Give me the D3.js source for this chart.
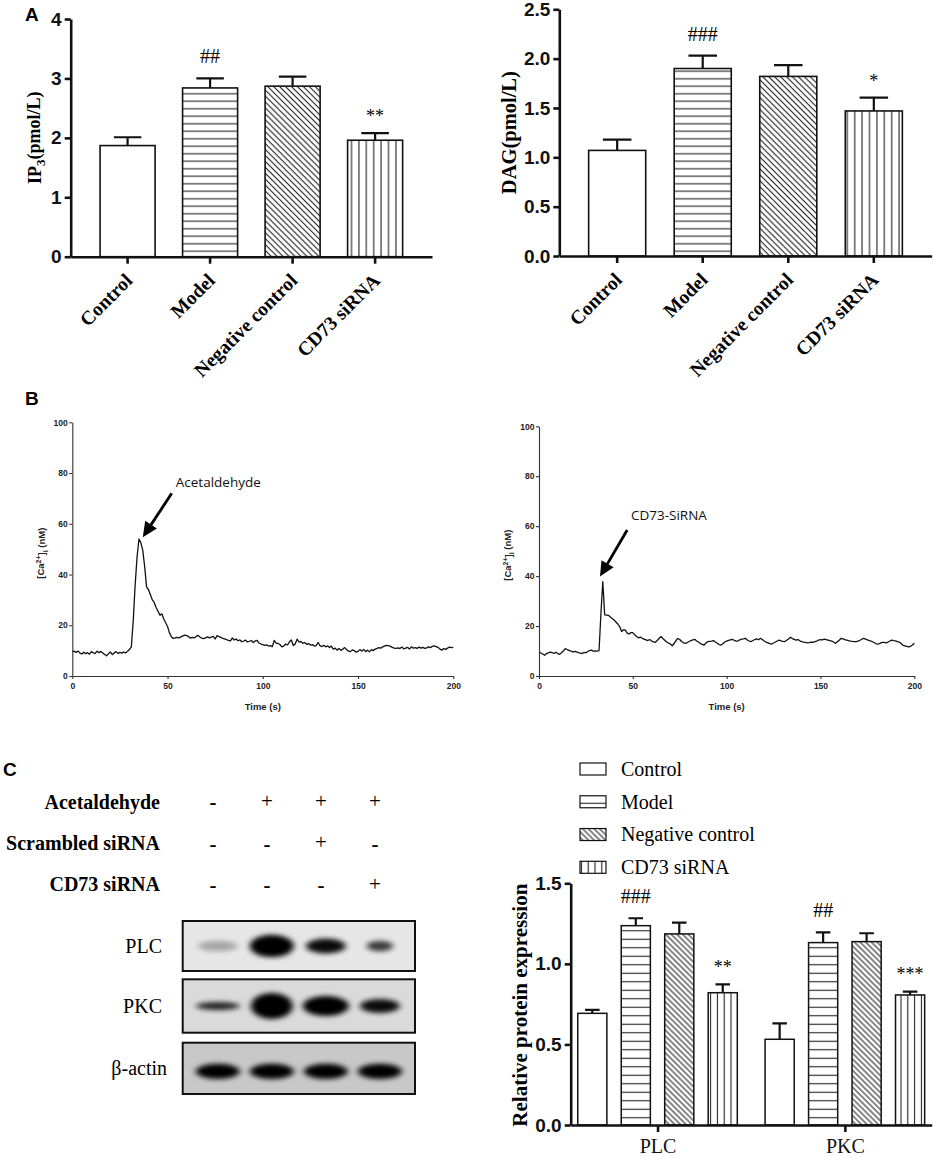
<!DOCTYPE html>
<html>
<head>
<meta charset="utf-8">
<script src="https://cdn.jsdelivr.net/npm/d3@7"></script>
<style>
  body { margin: 0; background: #fff; }
  svg { display: block; }
</style>
</head>
<body>
<script>
// ---------------- data ----------------
const groups = ["Control", "Model", "Negative control", "CD73 siRNA"];

// panel A
const ip3Mean = [1.87, 2.84, 2.87, 1.96];
const ip3Err = [0.14, 0.16, 0.16, 0.12];
const ip3Marks = ["", "##", "", "**"];
const ip3Ticks = [0, 1, 2, 3, 4];

const dagMean = [1.07, 1.90, 1.82, 1.47];
const dagErr = [0.11, 0.13, 0.115, 0.135];
const dagMarks = ["", "###", "", "*"];
const dagTicks = [0, 0.5, 1.0, 1.5, 2.0, 2.5];

// panel B, [Ca2+]i sampled every second from 0 to 200 s
const caStep = 1;
const caAcetaldehyde = [
  9.5, 9.8, 9.3, 9.9, 9.0, 8.7, 9.4, 8.8, 9.2, 8.6,
  9.6, 9.1, 8.9, 9.8, 9.2, 9.7, 9.1, 8.5, 8.0, 8.8,
  9.5, 8.4, 9.1, 9.6, 8.9, 9.3, 9.0, 9.4, 9.1, 9.8,
  10.4, 11.5, 22.0, 36.0, 47.0, 54.0, 52.5, 49.5, 43.0, 35.0,
  34.0, 32.0, 30.0, 29.0, 27.0, 25.5, 24.0, 24.5, 22.5, 21.0,
  19.5, 17.0, 15.5, 14.8, 15.0, 15.2, 15.0, 15.4, 15.8, 16.1,
  15.9, 15.6, 14.9, 15.2, 15.0, 15.6, 16.0, 15.4, 14.9, 14.7,
  15.0, 15.4, 15.0, 15.3, 15.6, 14.6, 15.9, 15.5, 15.2, 14.8,
  14.6, 14.3, 14.0, 13.8, 15.0, 14.2, 14.6, 13.9, 14.2, 13.5,
  13.8, 14.1, 13.4, 13.7, 14.0, 13.2, 13.8, 14.0, 13.0, 12.6,
  12.4, 12.1, 12.3, 11.8, 12.0, 11.6, 14.0, 13.0, 12.8, 12.4,
  11.5, 11.8, 12.6, 12.2, 13.5, 14.2, 12.0, 12.6, 14.5, 13.4,
  13.6, 12.9, 13.2, 12.5, 12.8, 12.2, 12.4, 11.8, 12.0, 13.2,
  12.0, 11.6, 12.1, 11.5, 11.9, 11.2, 11.8, 10.6, 11.0, 10.2,
  10.8, 10.1, 10.6, 11.2, 10.4, 9.8, 9.6, 10.3, 10.0, 9.4,
  9.7, 10.4, 9.8, 10.5, 9.6, 10.2, 9.5, 10.4, 10.0, 10.6,
  10.9, 11.2, 11.0, 11.5, 11.9, 12.1, 12.0, 11.7, 11.3, 11.0,
  10.9, 11.1, 10.8, 11.4, 10.7, 11.0, 11.3, 10.6, 11.5, 11.0,
  11.2, 10.9, 11.4, 11.0, 11.3, 10.9, 11.1, 11.5, 11.2, 11.7,
  11.9, 11.6, 11.3, 10.6, 10.2, 10.8, 10.5, 11.0, 11.4, 11.2,
  11.3
];
const caSiRNA = [
  9.7, 9.2, 8.8, 8.3, 9.0, 9.3, 9.6, 9.4, 9.0, 9.5,
  9.0, 8.7, 9.3, 10.0, 11.0, 10.6, 10.3, 10.0, 9.6, 9.9,
  9.7, 9.4, 9.2, 9.0, 9.5, 9.3, 9.8, 10.2, 10.4, 9.9,
  10.1, 10.0, 10.2, 25.0, 37.8, 24.5, 24.4, 24.3, 23.6, 23.0,
  22.4, 21.6, 20.8, 19.8, 17.8, 18.5, 18.4, 17.2, 16.8, 17.4,
  17.4, 16.5, 15.8, 15.3, 15.6, 15.1, 14.8, 14.5, 14.2, 14.6,
  14.0, 13.7, 13.5, 14.2, 15.0, 15.8, 15.0, 14.3, 13.6, 13.2,
  12.8, 12.1, 13.0, 14.2, 15.0, 14.6, 13.8, 13.3, 13.1, 13.4,
  13.8, 14.2, 14.5, 14.7, 14.0, 13.6, 13.0, 12.7, 12.4, 13.2,
  13.8, 13.9, 14.0, 14.2, 13.6, 13.1, 12.6, 12.4, 12.9, 13.6,
  14.0, 14.3, 14.5, 14.7, 14.3, 14.0, 14.0, 14.5, 14.8, 14.9,
  15.1, 14.4, 14.0, 13.8, 14.2, 14.6, 14.9, 14.5, 15.1, 14.6,
  14.0, 13.6, 13.3, 13.0, 12.8, 13.2, 13.6, 14.0, 14.4, 14.1,
  13.9, 13.8, 14.3, 14.8, 15.5, 15.0, 14.7, 14.4, 14.6, 14.1,
  13.8, 13.6, 13.5, 13.3, 13.4, 13.6, 13.5, 13.8, 14.0, 14.4,
  14.6, 14.5, 14.8, 14.6, 14.4, 14.2, 14.0, 13.6, 13.1, 13.7,
  14.3, 15.1, 14.9, 14.6, 14.4, 14.2, 14.0, 13.9, 13.8, 13.8,
  14.0, 14.3, 14.7, 15.1, 14.8, 14.5, 14.2, 14.0, 13.6, 13.2,
  12.8, 12.9, 13.2, 13.5, 13.5, 13.3, 13.6, 14.0, 14.4, 14.2,
  14.1, 13.8, 13.6, 13.0, 12.3, 12.1, 11.9, 11.7, 11.9, 12.4,
  13.1
];
const caTicksY = [0, 20, 40, 60, 80, 100];
const caTicksX = [0, 50, 100, 150, 200];
// arrow annotation: [time, value] of label start, arrow tail, arrow tip
const annoAcet = { label: "Acetaldehyde", text: [54.3, 74.6], tail: [52.2, 72], tip: [37, 54.7] };
const annoSi = { label: "CD73-SiRNA", text: [49, 62.5], tail: [47, 58.5], tip: [32.5, 39.8] };

// panel C, western blot
const lanes = ["L1", "L2", "L3", "L4"];
const treatRows = ["Acetaldehyde", "Scrambled siRNA", "CD73 siRNA"];
const treatSigns = [
  ["-", "+", "+", "+"],
  ["-", "-", "+", "-"],
  ["-", "-", "-", "+"]
];
const blotProteins = ["PLC", "PKC", "β-actin"];
const blotDensity = [
  [0.28, 1.00, 0.95, 0.75],
  [0.85, 1.00, 1.00, 0.95],
  [1.00, 1.00, 1.00, 1.00]
];
const blotThickness = [
  [0.35, 0.85, 0.55, 0.35],
  [0.25, 1.00, 0.75, 0.50],
  [0.55, 0.55, 0.55, 0.55]
];
const blotWidth = [
  [0.9, 1.0, 0.9, 0.6],
  [1.0, 0.95, 1.05, 0.9],
  [1.0, 1.0, 1.0, 1.0]
];

// panel C, densitometry
const proteins = ["PLC", "PKC"];
const plcMean = [0.693, 1.237, 1.186, 0.821];
const plcErr = [0.021, 0.046, 0.070, 0.052];
const plcMarks = ["", "###", "", "**"];
const pkcMean = [0.532, 1.132, 1.138, 0.807];
const pkcErr = [0.099, 0.064, 0.052, 0.021];
const pkcMarks = ["", "##", "", "***"];
const protTicks = [0, 0.5, 1.0, 1.5];

// ---------------- drawing ----------------
const SERIF = "Liberation Serif, Times New Roman, serif";
const SANS = "Liberation Sans, Arial, sans-serif";
const CALI = "Open Sans, sans-serif";

const svg = d3.select("body").append("svg")
  .attr("width", 934)
  .attr("height", 1158);
const defs = svg.append("defs");

//hatching patterns
function addPattern(id, kind, gap) {
  const p = defs.append("pattern")
    .attr("id", id)
    .attr("patternUnits", "userSpaceOnUse")
    .attr("width", gap)
    .attr("height", gap);
  if (kind === "d") p.attr("patternTransform", "rotate(-45)");
  p.append("rect").attr("width", gap).attr("height", gap).attr("fill", "#fff");
  if (kind === "h")
    p.append("line").attr("x1", 0).attr("x2", gap).attr("y1", gap / 2).attr("y2", gap / 2)
      .attr("stroke", "#222").attr("stroke-width", 1.1);
  else
    p.append("line").attr("x1", gap / 2).attr("x2", gap / 2).attr("y1", 0).attr("y2", gap)
      .attr("stroke", "#222").attr("stroke-width", 1.1);
}
addPattern("a-h", "h", 7.5);
addPattern("a-d", "d", 4.2);
addPattern("a-v", "v", 7.4);
addPattern("c-h", "h", 8.5);
addPattern("c-d", "d", 4);
addPattern("c-v", "v", 6.8);

function fillFor(i, set) {
  return ["#fff", `url(#${set}-h)`, `url(#${set}-d)`, `url(#${set}-v)`][i];
}

//blur filter for blot bands
defs.append("filter").attr("id", "blur").attr("x", "-50%").attr("y", "-100%").attr("width", "200%").attr("height", "300%")
  .append("feGaussianBlur").attr("stdDeviation", "3.2 2.4");

function panelLetter(txt, x, y) {
  svg.append("text").attr("x", x).attr("y", y).text(txt)
    .style("font-family", SANS).style("font-weight", "bold").style("font-size", "19px");
}

function styleAxis(ax, width, fontSize, family) {
  ax.selectAll("path.domain").attr("stroke", "#111").attr("stroke-width", width);
  ax.selectAll(".tick line").attr("stroke", "#111").attr("stroke-width", width);
  ax.selectAll(".tick text").style("font-family", family).style("font-weight", "bold")
    .style("font-size", fontSize + "px").attr("fill", "#111");
}

// significance marks, centred ~21px above the error cap
function drawMark(g, cx, capY, mark) {
  if (!mark) return;
  const star = mark[0] === "*";
  const fs = star ? 18 : 20;
  g.append("text")
    .attr("x", cx)
    .attr("y", capY - 21 + (star ? 0.55 : 0.3) * fs)
    .attr("text-anchor", "middle")
    .text(mark)
    .style("font-family", SERIF)
    .style("font-size", fs + "px");
}

// bar chart of panel A
function barPanel(cfg) {
  const g = svg.append("g");
  const x = d3.scaleBand().domain(groups).range([cfg.left, cfg.right])
    .paddingInner(0.333).paddingOuter(cfg.po);
  const y = d3.scaleLinear().domain([0, cfg.max]).range([cfg.bottom, cfg.top]);

  g.selectAll(".bar").data(cfg.mean).join("rect")
    .attr("x", (d, i) => x(groups[i]))
    .attr("width", x.bandwidth())
    .attr("y", d => y(d))
    .attr("height", d => y(0) - y(d))
    .attr("fill", (d, i) => fillFor(i, "a"))
    .attr("stroke", "#111")
    .attr("stroke-width", 1.6);

  g.selectAll(".err").data(cfg.mean).join("path")
    .attr("d", (d, i) => {
      const cx = x(groups[i]) + x.bandwidth() / 2;
      const w = x.bandwidth() / 4;
      const top = y(d + cfg.err[i]);
      return `M${cx},${y(d)}V${top}M${cx - w},${top}H${cx + w}`;
    })
    .attr("fill", "none").attr("stroke", "#111").attr("stroke-width", 2.2);

  cfg.mean.forEach((d, i) => drawMark(g, x(groups[i]) + x.bandwidth() / 2, y(d + cfg.err[i]), cfg.marks[i]));

  const ya = g.append("g").attr("transform", `translate(${cfg.left},0)`)
    .call(d3.axisLeft(y).tickValues(cfg.ticks).tickFormat(cfg.fmt).tickSize(6).tickPadding(3).tickSizeOuter(0));
  styleAxis(ya, 2.6, 19, SANS);

  const xa = g.append("g").attr("transform", `translate(0,${cfg.bottom})`)
    .call(d3.axisBottom(x).tickSize(7).tickSizeOuter(0));
  styleAxis(xa, 2.6, 19, SANS);
  xa.selectAll(".tick text").remove();

  groups.forEach(name => {
    const cx = x(name) + x.bandwidth() / 2;
    g.append("text")
      .attr("transform", `translate(${cx + 6},${cfg.bottom + 25}) rotate(-45)`)
      .attr("text-anchor", "end")
      .text(name)
      .style("font-family", SERIF).style("font-weight", "bold").style("font-size", "19.5px");
  });

  //y label
  const lab = g.append("text")
    .attr("transform", `translate(${cfg.labelX},${(cfg.top + cfg.bottom) / 2 + cfg.labelDy}) rotate(-90)`)
    .attr("text-anchor", "middle")
    .style("font-family", SERIF).style("font-weight", "bold").style("font-size", cfg.labelSize + "px");
  cfg.label(lab);
}

barPanel({
  left: 70.7, right: 432, top: 19, bottom: 256.7, max: 4, po: 0.356,
  mean: ip3Mean, err: ip3Err, marks: ip3Marks, ticks: ip3Ticks, fmt: d3.format("d"),
  labelX: 41, labelDy: 0, labelSize: 18,
  label: t => {
    t.append("tspan").text("IP");
    t.append("tspan").attr("dy", "0.3em").style("font-size", "13px").text("3");
    t.append("tspan").attr("dy", "-0.3em").text("(pmol/L)");
  }
});
barPanel({
  left: 559.3, right: 931.7, top: 9.3, bottom: 256, max: 2.5, po: 0.343,
  mean: dagMean, err: dagErr, marks: dagMarks, ticks: dagTicks, fmt: d3.format(".1f"),
  labelX: 516, labelDy: 0, labelSize: 20.5,
  label: t => t.text("DAG(pmol/L)")
});
panelLetter("A", 25, 21);

// calcium traces of panel B
function tracePanel(cfg) {
  const g = svg.append("g");
  const x = d3.scaleLinear().domain([0, 200]).range([cfg.left, cfg.right]);
  const y = d3.scaleLinear().domain([0, 100]).range([cfg.bottom, cfg.top]);

  const line = d3.line()
    .x((d, i) => x(i * caStep))
    .y(d => y(d));
  g.append("path").datum(cfg.values)
    .attr("d", line)
    .attr("fill", "none")
    .attr("stroke", "#111")
    .attr("stroke-width", 1.3)
    .attr("stroke-linejoin", "round");

  const ya = g.append("g").attr("transform", `translate(${cfg.left},0)`)
    .call(d3.axisLeft(y).tickValues(caTicksY).tickSize(3).tickPadding(1.5).tickSizeOuter(0));
  const xa = g.append("g").attr("transform", `translate(0,${cfg.bottom})`)
    .call(d3.axisBottom(x).tickValues(caTicksX).tickSize(3).tickPadding(4).tickSizeOuter(0));
  [ya, xa].forEach(a => styleAxis(a, 1.1, 8.5, SANS));
  ya.selectAll("path.domain, .tick line").attr("stroke", "#333");
  xa.selectAll("path.domain, .tick line").attr("stroke", "#333");
  ya.selectAll(".tick text, .tick line").attr("fill", "#222");
  xa.selectAll(".tick text").attr("fill", "#222");

  g.append("text")
    .attr("x", (cfg.left + cfg.right) / 2)
    .attr("y", cfg.bottom + 34)
    .attr("text-anchor", "middle")
    .text("Time (s)")
    .style("font-family", SANS).style("font-weight", "bold").style("font-size", "9.5px").attr("fill", "#222");

  const yl = g.append("text")
    .attr("transform", `translate(${cfg.left - 28},${(cfg.top + cfg.bottom) / 2 + 4}) rotate(-90)`)
    .attr("text-anchor", "middle")
    .style("font-family", SANS).style("font-weight", "bold").style("font-size", "9.5px").attr("fill", "#222");
  yl.append("tspan").text("[Ca");
  yl.append("tspan").attr("dy", "-0.45em").style("font-size", "7px").text("2+");
  yl.append("tspan").attr("dy", "0.45em").text("]");
  yl.append("tspan").attr("dy", "0.3em").style("font-size", "7px").text("i");
  yl.append("tspan").attr("dy", "-0.3em").text(" (nM)");

  //arrow and annotation
  const a = cfg.anno;
  const tip = [x(a.tip[0]), y(a.tip[1])];
  const tail = [x(a.tail[0]), y(a.tail[1])];
  const len = Math.hypot(tip[0] - tail[0], tip[1] - tail[1]);
  const u = [(tip[0] - tail[0]) / len, (tip[1] - tail[1]) / len];
  const n = [-u[1], u[0]];
  const headLen = 15, headHalf = 7;
  const base = [tip[0] - u[0] * headLen, tip[1] - u[1] * headLen];
  g.append("line")
    .attr("x1", tail[0]).attr("y1", tail[1])
    .attr("x2", base[0] + u[0] * 2).attr("y2", base[1] + u[1] * 2)
    .attr("stroke", "#000").attr("stroke-width", 2.8);
  g.append("path")
    .attr("d", `M${tip[0]},${tip[1]}L${base[0] + n[0] * headHalf},${base[1] + n[1] * headHalf}L${base[0] - n[0] * headHalf},${base[1] - n[1] * headHalf}Z`)
    .attr("fill", "#000");
  g.append("text")
    .attr("x", x(a.text[0])).attr("y", y(a.text[1]))
    .text(a.label)
    .style("font-family", CALI).style("font-size", "13.5px").attr("fill", "#111");
}

tracePanel({ left: 72.3, right: 453.3, top: 422.3, bottom: 676, values: caAcetaldehyde, anno: annoAcet });
tracePanel({ left: 539, right: 914.3, top: 426.3, bottom: 676, values: caSiRNA, anno: annoSi });
panelLetter("B", 25, 405);

// western blot of panel C
panelLetter("C", 3, 776);
const signX = d3.scalePoint().domain(lanes).range([213, 375]);
const rowY = d3.scalePoint().domain(treatRows).range([801.7, 884.3]);
treatRows.forEach((row, r) => {
  svg.append("text")
    .attr("x", 160).attr("y", rowY(row)).attr("dy", "0.34em")
    .attr("text-anchor", "end")
    .text(row)
    .style("font-family", SERIF).style("font-weight", "bold").style("font-size", "20px");
  treatSigns[r].forEach((s, l) => {
    svg.append("text")
      .attr("x", signX(lanes[l])).attr("y", rowY(row)).attr("dy", s === "+" ? "0.3em" : "0.36em")
      .attr("text-anchor", "middle")
      .text(s)
      .style("font-family", SERIF).style("font-weight", s === "-" ? "bold" : "normal").style("font-size", "21px");
  });
});

const blotBoxes = [
  { y0: 921, y1: 971, bg: "#e6e6e6", labelX: 162 },
  { y0: 979.3, y1: 1032.7, bg: "#dadada", labelX: 162 },
  { y0: 1042.7, y1: 1094, bg: "#c8c8c8", labelX: 167 }
];
const laneX = d3.scalePoint().domain(lanes).range([182.7, 415]).padding(0.65);
const bandH = d3.scaleLinear().domain([0, 1]).range([0, 24]);
const bandW = d3.scaleLinear().domain([0, 1]).range([0, 44]);
blotProteins.forEach((p, r) => {
  const b = blotBoxes[r];
  const cy = (b.y0 + b.y1) / 2;
  svg.append("text")
    .attr("x", b.labelX).attr("y", cy).attr("dy", "0.34em")
    .attr("text-anchor", "end")
    .text(p)
    .style("font-family", SERIF).style("font-size", "20px");
  svg.append("rect")
    .attr("x", 182.7).attr("y", b.y0).attr("width", 415 - 182.7).attr("height", b.y1 - b.y0)
    .attr("fill", b.bg);
  const clip = "clip" + r;
  defs.append("clipPath").attr("id", clip).append("rect")
    .attr("x", 182.7).attr("y", b.y0).attr("width", 415 - 182.7).attr("height", b.y1 - b.y0);
  const bg = svg.append("g").attr("clip-path", `url(#${clip})`);
  bg.selectAll("ellipse").data(blotDensity[r]).join("ellipse")
    .attr("cx", (d, i) => laneX(lanes[i]))
    .attr("cy", cy + (r === 2 ? 3 : 0))
    .attr("rx", (d, i) => bandW(blotWidth[r][i]) / 2)
    .attr("ry", (d, i) => Math.max(2.5, bandH(blotThickness[r][i]) / 2 + 1))
    .attr("fill", "#000")
    .attr("opacity", d => d)
    .attr("filter", "url(#blur)");
  svg.append("rect")
    .attr("x", 182.7).attr("y", b.y0).attr("width", 415 - 182.7).attr("height", b.y1 - b.y0)
    .attr("fill", "none").attr("stroke", "#111").attr("stroke-width", 2);
});

// densitometry bars of panel C
(function protPanel() {
  const left = 570.7, right = 931.7, top = 883.3, bottom = 1125;
  const g = svg.append("g");
  const x0 = d3.scalePoint().domain(proteins).range([left, right]).padding(0.4635);
  const x1 = d3.scaleBand().domain(groups).range([-80, 80]).paddingInner(0.33).paddingOuter(0.005);
  const y = d3.scaleLinear().domain([0, 1.5]).range([bottom, top]);
  const means = [plcMean, pkcMean], errs = [plcErr, pkcErr], marks = [plcMarks, pkcMarks];

  proteins.forEach((p, k) => {
    groups.forEach((name, i) => {
      const bx = x0(p) + x1(name);
      const cx = bx + x1.bandwidth() / 2;
      const v = means[k][i], e = errs[k][i];
      g.append("rect")
        .attr("x", bx).attr("width", x1.bandwidth())
        .attr("y", y(v)).attr("height", y(0) - y(v))
        .attr("fill", fillFor(i, "c")).attr("stroke", "#111").attr("stroke-width", 1.5);
      const w = x1.bandwidth() / 4;
      g.append("path")
        .attr("d", `M${cx},${y(v)}V${y(v + e)}M${cx - w},${y(v + e)}H${cx + w}`)
        .attr("fill", "none").attr("stroke", "#111").attr("stroke-width", 2.2);
      drawMark(g, cx, y(v + e), marks[k][i]);
    });
  });

  const ya = g.append("g").attr("transform", `translate(${left},0)`)
    .call(d3.axisLeft(y).tickValues(protTicks).tickFormat(d3.format(".1f")).tickSize(6).tickPadding(3).tickSizeOuter(0));
  styleAxis(ya, 2.6, 19, SANS);
  const xa = g.append("g").attr("transform", `translate(0,${bottom})`)
    .call(d3.axisBottom(x0).tickSize(7).tickSizeOuter(0));
  styleAxis(xa, 2.6, 20, SERIF);
  xa.selectAll(".tick text").style("font-weight", "normal").attr("y", 28).attr("dy", 0);

  g.append("text")
    .attr("transform", `translate(527,${(top + bottom) / 2 + 1}) rotate(-90)`)
    .attr("text-anchor", "middle")
    .text("Relative protein expression")
    .style("font-family", SERIF).style("font-weight", "bold").style("font-size", "21px");

  //legend
  const ly = d3.scalePoint().domain(groups).range([769, 867.3]);
  groups.forEach((name, i) => {
    g.append("rect")
      .attr("x", 580).attr("y", ly(name) - 6).attr("width", 26).attr("height", 12)
      .attr("fill", fillFor(i, "c")).attr("stroke", "#111").attr("stroke-width", 1.2);
    g.append("text")
      .attr("x", 621).attr("y", ly(name)).attr("dy", "0.34em")
      .text(name)
      .style("font-family", SERIF).style("font-size", "20px");
  });
})();
</script>
</body>
</html>
